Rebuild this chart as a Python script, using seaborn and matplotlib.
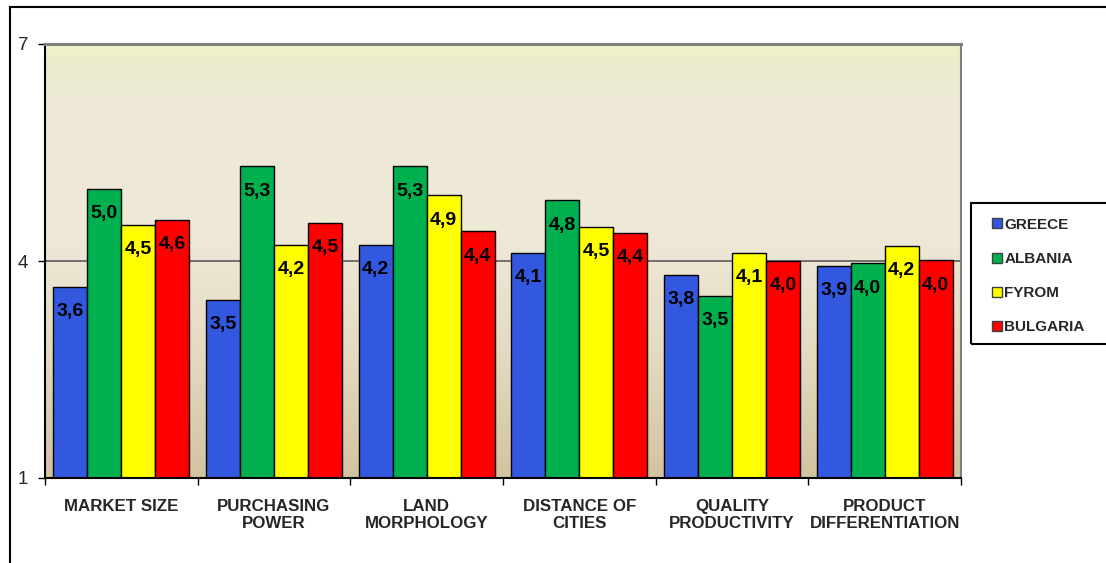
import numpy as np
import pandas as pd
import seaborn as sns
import matplotlib.pyplot as plt
from matplotlib.colors import LinearSegmentedColormap
from matplotlib.lines import Line2D
from matplotlib.patches import Rectangle

# chart data
categories = ["MARKET SIZE", "PURCHASING\nPOWER", "LAND\nMORPHOLOGY",
              "DISTANCE OF\nCITIES", "QUALITY\nPRODUCTIVITY", "PRODUCT\nDIFFERENTIATION"]
countries = ["GREECE", "ALBANIA", "FYROM", "BULGARIA"]
greece = [3.64, 3.46, 4.22, 4.11, 3.81, 3.93]
albania = [5.00, 5.31, 5.31, 4.84, 3.52, 3.97]
fyrom = [4.50, 4.22, 4.91, 4.47, 4.11, 4.21]
bulgaria = [4.57, 4.53, 4.41, 4.39, 4.00, 4.01]
colors = ["#3358e0", "#00b04f", "#ffff00", "#ff0000"]

series = [greece, albania, fyrom, bulgaria]
rows = []
for c, vals in zip(countries, series):
    for cat, v in zip(categories, vals):
        rows.append({"category": cat, "country": c, "value": v})
df = pd.DataFrame(rows)

sns.set_style("white")
plt.rcParams["font.family"] = ["Liberation Sans", "DejaVu Sans"]

fig = plt.figure(figsize=(11.06, 5.63), dpi=100)
W, H = 1106, 563
ax = fig.add_axes([45 / W, 1 - 478 / H, (961 - 45) / W, (478 - 44) / H])

# background gradient of the plot area
cmap = LinearSegmentedColormap.from_list("bg", [
    (0.0, "#d2c3a0"), (0.3, "#e5dbc2"), (0.55, "#eee8d7"),
    (0.88, "#eeead6"), (0.96, "#ebebcb"), (1.0, "#f3f3c6")])
grad = np.linspace(0, 1, 256).reshape(-1, 1)
ax.imshow(grad, cmap=cmap, aspect="auto", origin="lower",
          extent=[0, 1, 0, 1], transform=ax.transAxes, zorder=0)

sns.barplot(data=df, x="category", y="value", hue="country", palette=colors,
            width=0.89, edgecolor="black", linewidth=1, saturation=1,
            legend=False, ax=ax, zorder=3)

ax.set_xlim(-0.5, 5.5)
ax.set_ylim(1, 7)
ax.set_yticks([1, 4, 7])
ax.set_yticklabels(["1", "4", "7"], fontsize=13.5)
ax.axhline(4, color="#5a5a5a", lw=1.2, zorder=1)

# x ticks at group boundaries, labels at centres
ax.set_xticks(np.arange(-0.5, 6, 1))
ax.set_xticklabels([])
ax.set_xticks(range(6), minor=True)
ax.set_xticklabels(categories, minor=True, fontsize=12.2, fontweight="bold",
                   linespacing=1.15)
ax.tick_params(axis="x", which="major", length=5, width=1, direction="out",
               bottom=True, color="black")
ax.tick_params(axis="x", which="minor", length=0, pad=15)
ax.tick_params(axis="y", length=5, width=1, direction="out", left=True,
               color="black", pad=7)
ax.set_xlabel("")
ax.set_ylabel("")

for side in ["left", "bottom"]:
    ax.spines[side].set_color("black")
    ax.spines[side].set_linewidth(1.5)
ax.spines["top"].set_color("#808080")
ax.spines["top"].set_linewidth(2.2)
ax.spines["right"].set_color("#808080")
ax.spines["right"].set_linewidth(1.5)
for s in ax.spines.values():
    s.set_zorder(5)

for cont, vals in zip(ax.containers, series):
    labels = [f"{v:.1f}".replace(".", ",") for v in vals]
    ax.bar_label(cont, labels=labels, padding=-24, fontsize=14,
                 fontweight="bold", color="black", zorder=4)

# legend box hanging off the right edge
fig.patches.append(Rectangle((971 / W, 1 - 344 / H), 200 / W, 141 / H,
                             transform=fig.transFigure, fill=False,
                             edgecolor="black", lw=1.5))
handles = [Line2D([], [], marker="s", ls="", markersize=7, markerfacecolor=c,
                  markeredgecolor="#404040") for c in colors]
fig.legend(handles, countries, loc="upper left",
           bbox_to_anchor=(976 / W, 1 - 204 / H), frameon=False,
           prop={"weight": "bold", "size": 11}, handletextpad=0.05,
           labelspacing=1.32, handlelength=0.9)

# outer chart frame
fig.patches.append(Rectangle((10 / W, -0.1), 1.2, 1 - 7 / H + 0.1,
                             transform=fig.transFigure, fill=False,
                             edgecolor="black", lw=1.5))

fig.savefig("out.png", dpi=100)
